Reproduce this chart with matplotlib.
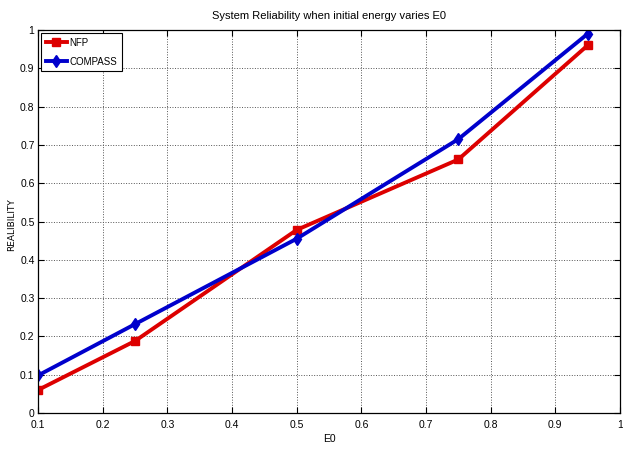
import matplotlib
matplotlib.use("Agg")
import matplotlib.pyplot as plt
from matplotlib import font_manager

e0 = [0.1, 0.25, 0.5, 0.75, 0.95]
nfp = [0.06, 0.188, 0.478, 0.662, 0.96]
compass = [0.098, 0.232, 0.455, 0.715, 0.99]
xticks = [0.1, 0.2, 0.3, 0.4, 0.5, 0.6, 0.7, 0.8, 0.9, 1.0]
xticklabels = ["0.1", "0.2", "0.3", "0.4", "0.5", "0.6", "0.7", "0.8", "0.9", "1"]
yticks = [0, 0.1, 0.2, 0.3, 0.4, 0.5, 0.6, 0.7, 0.8, 0.9, 1.0]
yticklabels = ["0", "0.1", "0.2", "0.3", "0.4", "0.5", "0.6", "0.7", "0.8", "0.9", "1"]

names = {f.name for f in font_manager.fontManager.ttflist}
narrow = "Liberation Sans Narrow" if "Liberation Sans Narrow" in names else "Liberation Sans"
plt.rcParams['font.family'] = [narrow, 'DejaVu Sans']

fig = plt.figure(figsize=(6.23, 4.49), dpi=100)
ax = fig.add_axes([38/623, 1 - 413/449, (620-38)/623, (413-30)/449])

ax.plot(e0, nfp, color='#dd0000', lw=2.8, marker='s', ms=6, label='NFP')
ax.plot(e0, compass, color='#0000cc', lw=2.8, marker='d', ms=6, label='COMPASS')

ax.set_xlim(0.1, 1.0)
ax.set_ylim(0, 1.0)
ax.set_xticks(xticks)
ax.set_xticklabels(xticklabels)
ax.set_yticks(yticks)
ax.set_yticklabels(yticklabels)
ax.tick_params(direction='in', top=True, right=True, labelsize=7.5, length=4, pad=2.5)
ax.tick_params(axis='x', pad=5)
ax.grid(True, linestyle=':', color='#555555', lw=0.7)
for s in ax.spines.values():
    s.set_linewidth(0.9)

ax.set_title('System Reliability when initial energy varies E0', fontsize=8, pad=8)
ax.set_xlabel('E0', fontsize=7.5, labelpad=3)
fig.text(12/623, 1 - 225/449, 'REALIBILITY', rotation=90, ha='center', va='center',
         fontsize=6.5, family='DejaVu Sans')

leg = ax.legend(loc='upper left', fontsize=7, fancybox=False, edgecolor='black',
                framealpha=1, handlelength=2.2, borderpad=0.5, labelspacing=0.9,
                handletextpad=0.2, borderaxespad=0.3)
leg.get_frame().set_linewidth(0.8)

fig.savefig('out.png', dpi=100)
